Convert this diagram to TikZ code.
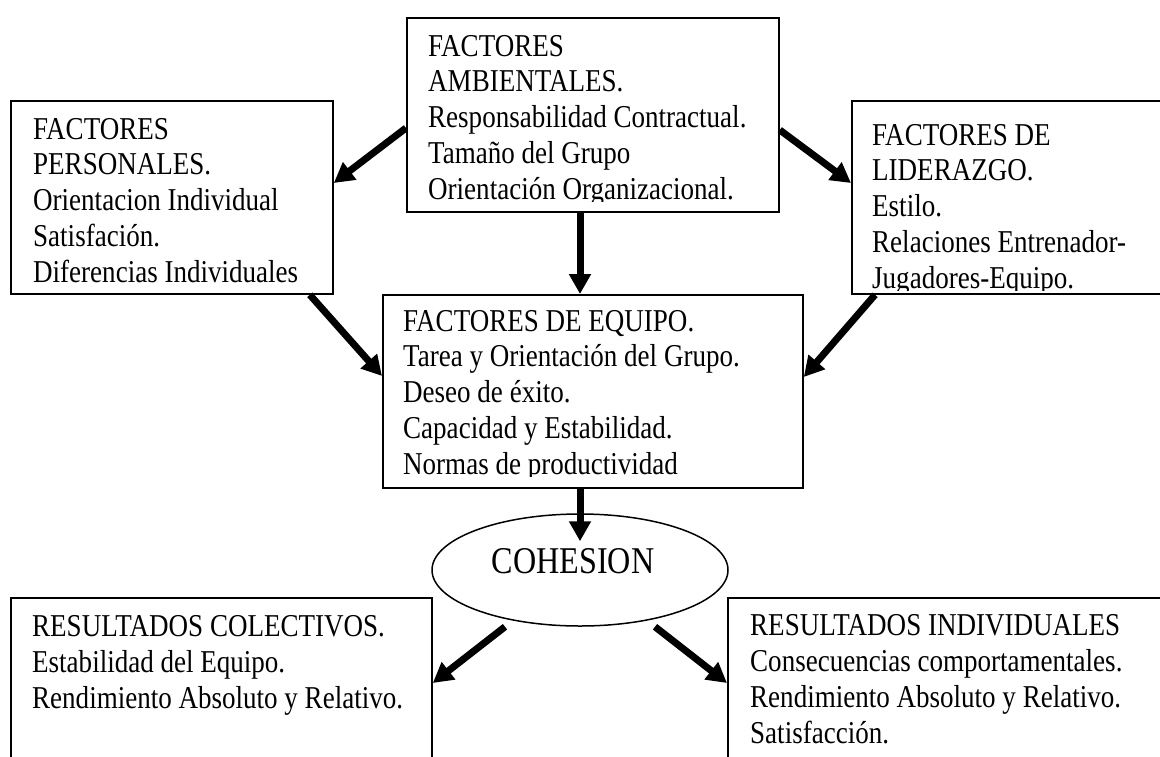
\documentclass[tikz,border=0pt]{standalone}
\usepackage{fontspec}
\setmainfont{Liberation Serif}[FakeStretch=0.85]
\usetikzlibrary{arrows.meta,calc,shapes.geometric}
\begin{document}
\begin{tikzpicture}[x=1pt,y=-1pt,
  box/.style={draw, line width=1.8pt, inner sep=0pt, anchor=north west},
  boxtext/.style={anchor=base west, inner sep=0pt, align=left,
    font=\fontsize{31.8}{35.7}\selectfont},
  flow/.style={line width=7pt, -{Triangle[length=20pt,width=21pt]}},
]
\useasboundingbox (0,0) rectangle (1160,756);
\fill[white] (0,0) rectangle (1160,756);

% frames
\node[box, minimum width=372pt, minimum height=194pt] (amb) at (406,17) {};
\node[box, minimum width=322pt, minimum height=193pt] (pers) at (10,100) {};
\node[box, minimum width=330pt, minimum height=193pt] (lid) at (851,100) {};
\node[box, minimum width=420pt, minimum height=193pt] (equipo) at (382,294) {};
\node[box, minimum width=421pt, minimum height=200pt] (colect) at (10,597) {};
\node[box, minimum width=460pt, minimum height=200pt] (indiv) at (727,597) {};
\node[draw, ellipse, line width=1.5pt, minimum width=296pt, minimum height=112pt,
  inner sep=0pt] (cohesion) at (580,570) {};

% box texts, placed by the baseline of their last line;
% overflowing lines are cut by the frame
\begin{scope}
  \clip (amb.north west) rectangle ($(amb.south east)+(0,-11)$);
  \node[boxtext] (ambtxt) at (428,199) {FACTORES\\AMBIENTALES.\\Responsabilidad Contractual.\\Tama\~no del Grupo\\Orientaci\'on Organizacional.};
\end{scope}
\node[boxtext] (perstxt) at (33,282) {FACTORES\\PERSONALES.\\Orientacion Individual\\Satisfaci\'on.\\Diferencias Individuales};
\begin{scope}
  \clip (lid.north west) rectangle ($(lid.south east)+(0,-4)$);
  \node[boxtext] (lidtxt) at (872,288) {FACTORES DE\\LIDERAZGO.\\Estilo.\\Relaciones Entrenador-\\Jugadores-Equipo.};
\end{scope}
\begin{scope}
  \clip (equipo.north west) rectangle ($(equipo.south east)+(0,-12)$);
  \node[boxtext] (equipotxt) at (403,474) {FACTORES DE EQUIPO.\\Tarea y Orientaci\'on del Grupo.\\Deseo de \'exito.\\Capacidad y Estabilidad.\\Normas de productividad};
\end{scope}
\node[boxtext] (colecttxt) at (32,708) {RESULTADOS COLECTIVOS.\\Estabilidad del Equipo.\\Rendimiento Absoluto y Relativo.};
\node[boxtext] (indivtxt) at (750,743) {RESULTADOS INDIVIDUALES\\Consecuencias comportamentales.\\Rendimiento Absoluto y Relativo.\\Satisfacci\'on.};
\node[anchor=base, inner sep=0pt, font=\fontsize{37.8}{40}\selectfont] (cohtxt) at (573,573) {COHESION};

% influences
\draw[flow] ($(amb.north west)+(0,111)$) -- ($(pers.north east)+(0,83)$);
\draw[flow] ($(amb.north east)+(0,113)$) -- ($(lid.north west)+(0,83)$);
\draw[flow] ($(amb.south west)+(174,0)$) -- ($(equipo.north west)+(198,0)$);
\draw[flow] ($(pers.south east)+(-24,0)$) -- ($(equipo.north west)+(0,82)$);
\draw[flow] ($(lid.south west)+(24,0)$) -- ($(equipo.north east)+(0,83)$);
\draw[flow] ($(equipo.south west)+(198,0)$) -- ($(cohesion.north)+(0,28)$);
\draw[flow] ($(cohesion.south)+(-75,0)$) -- ($(colect.north east)+(0,86)$);
\draw[flow] ($(cohesion.south)+(75,0)$) -- ($(indiv.north west)+(0,86)$);
\end{tikzpicture}
\end{document}
